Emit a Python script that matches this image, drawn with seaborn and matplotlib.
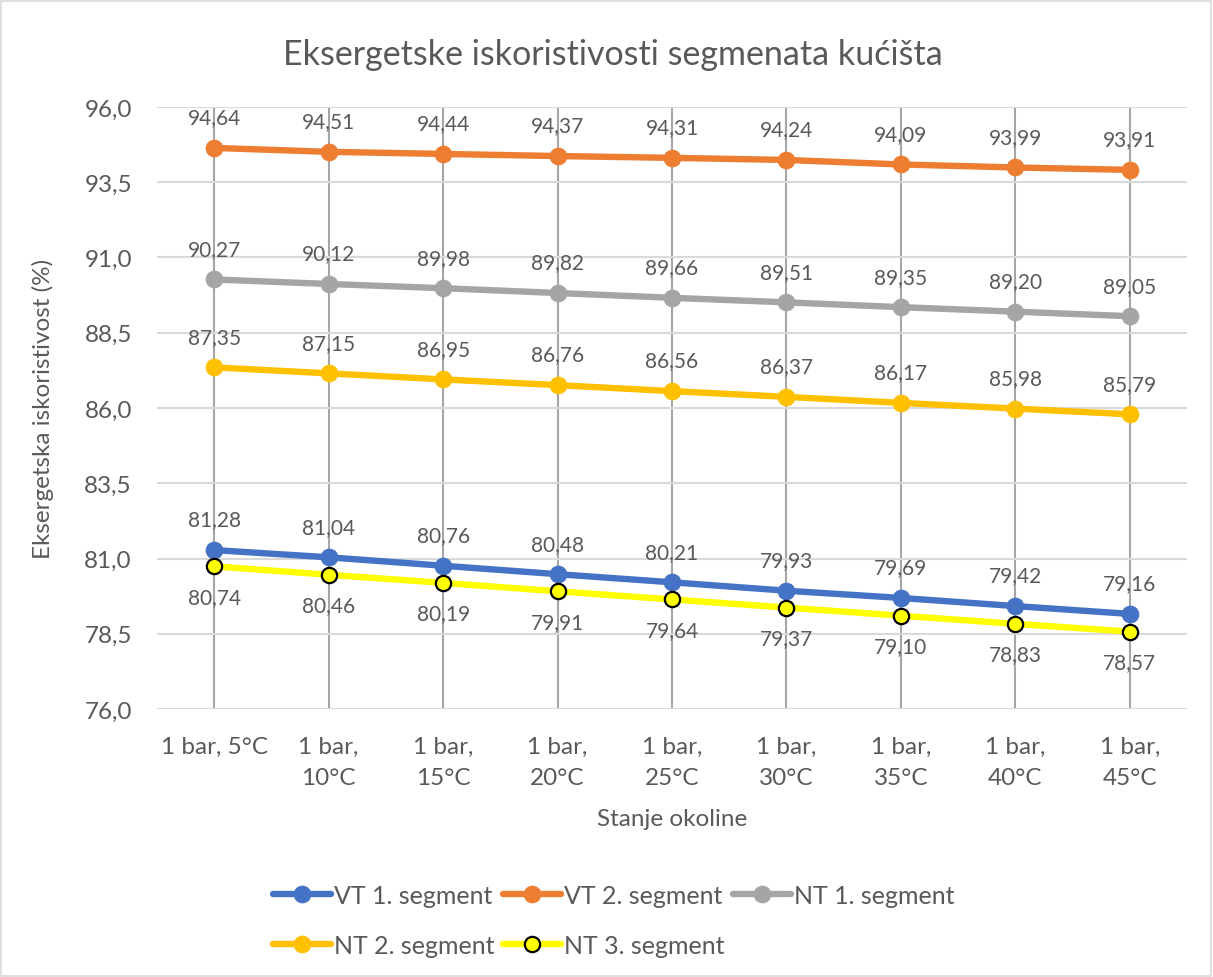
import matplotlib
matplotlib.use("Agg")

import matplotlib.pyplot as plt
import seaborn as sns
import pandas as pd
from matplotlib.patches import Rectangle

# -----------------------------
# Data
# -----------------------------
conditions = ["1 bar, 5°C", "1 bar,\n10°C", "1 bar,\n15°C", "1 bar,\n20°C",
              "1 bar,\n25°C", "1 bar,\n30°C", "1 bar,\n35°C", "1 bar,\n40°C",
              "1 bar,\n45°C"]

vt1 = [81.28, 81.04, 80.76, 80.48, 80.21, 79.93, 79.69, 79.42, 79.16]
vt2 = [94.64, 94.51, 94.44, 94.37, 94.31, 94.24, 94.09, 93.99, 93.91]
nt1 = [90.27, 90.12, 89.98, 89.82, 89.66, 89.51, 89.35, 89.20, 89.05]
nt2 = [87.35, 87.15, 86.95, 86.76, 86.56, 86.37, 86.17, 85.98, 85.79]
nt3 = [80.74, 80.46, 80.19, 79.91, 79.64, 79.37, 79.10, 78.83, 78.57]

series_names = ["VT 1. segment", "VT 2. segment", "NT 1. segment",
                "NT 2. segment", "NT 3. segment"]
series_values = [vt1, vt2, nt1, nt2, nt3]
colors = ["#4472C4", "#ED7D31", "#A5A5A5", "#FFC000", "#FFFF00"]

y_ticks = [76.0, 78.5, 81.0, 83.5, 86.0, 88.5, 91.0, 93.5, 96.0]

# -----------------------------
# Style
# -----------------------------
sns.set_style("white")
plt.rcParams["font.family"] = ["Lato", "DejaVu Sans"]
text_col = "#595959"

fig = plt.figure(figsize=(12.13, 9.78), dpi=100)
ax = fig.add_axes([0.1294, 0.274, 0.8492, 0.6156])

fig.patches.append(Rectangle((0.001, 0.001), 0.997, 0.997, transform=fig.transFigure,
                             fill=False, edgecolor="#d9d9d9", linewidth=1.2))

# -----------------------------
# Lines
# -----------------------------
handles = {}
for name, vals, col in zip(series_names, series_values, colors):
    df = pd.DataFrame({"x": range(len(conditions)), "y": vals})
    if name == "NT 3. segment":
        sns.lineplot(data=df, x="x", y="y", ax=ax, color=col, linewidth=4.6,
                     marker="o", markersize=11, markerfacecolor=col,
                     markeredgecolor="black", markeredgewidth=1.6, zorder=3)
    else:
        sns.lineplot(data=df, x="x", y="y", ax=ax, color=col, linewidth=4.6,
                     marker="o", markersize=12, markerfacecolor=col,
                     markeredgecolor=col, zorder=3)
    handles[name] = ax.lines[-1]
    for i, v in enumerate(vals):
        label = f"{v:.2f}".replace(".", ",")
        if name == "NT 3. segment":
            ax.annotate(label, (i, v), xytext=(0, -22), textcoords="offset points",
                        ha="center", va="center", fontsize=15, color=text_col)
        else:
            ax.annotate(label, (i, v), xytext=(0, 22), textcoords="offset points",
                        ha="center", va="center", fontsize=15, color=text_col)

# -----------------------------
# Axes
# -----------------------------
ax.set_xlim(-0.5, len(conditions) - 0.5)
ax.set_ylim(76.0, 96.0)
ax.set_yticks(y_ticks)
ax.set_yticklabels([f"{t:.1f}".replace(".", ",") for t in y_ticks],
                   fontsize=17.5, color=text_col)
ax.set_xticks(range(len(conditions)))
ax.set_xticklabels(conditions, fontsize=17.5, color=text_col, linespacing=1.65)
ax.tick_params(axis="y", length=0, pad=18)
ax.tick_params(axis="x", length=0, pad=19)

ax.grid(axis="y", color="#d9d9d9", linewidth=1.5)
ax.grid(axis="x", color="#a6a6a6", linewidth=1.5)
ax.set_axisbelow(True)
for s in ax.spines.values():
    s.set_visible(False)

ax.set_xlabel("Stanje okoline", fontsize=17.5, color=text_col, labelpad=14)
ax.set_ylabel("Eksergetska iskoristivost (%)", fontsize=17.5, color=text_col, labelpad=22)

fig.text(0.505, 0.944, "Eksergetske iskoristivosti segmenata kućišta",
         ha="center", va="center", fontsize=24.5, color=text_col)

# legend: row-major order with ncol=3
order = ["VT 1. segment", "NT 2. segment", "VT 2. segment", "NT 3. segment", "NT 1. segment"]
leg = fig.legend([handles[n] for n in order], order, loc="center",
                 bbox_to_anchor=(0.506, 0.058), ncol=3, frameon=False, fontsize=18,
                 handlelength=2.3, handletextpad=0.12, columnspacing=0.36,
                 labelspacing=1.1, labelcolor=text_col)

plt.savefig("out.png", dpi=100)
plt.close()
